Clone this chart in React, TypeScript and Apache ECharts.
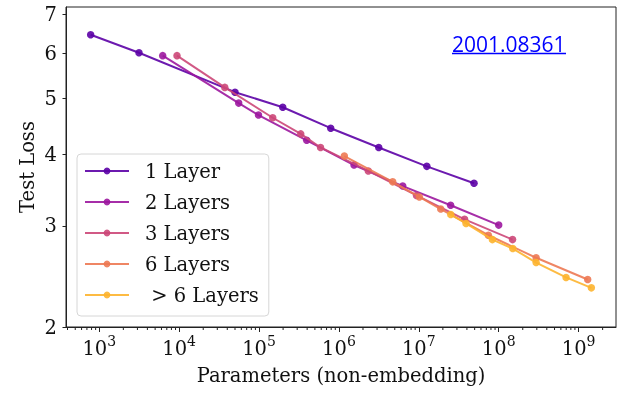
import React, { useEffect, useRef } from 'react';
import * as echarts from 'echarts';

const seriesNames = ['1 Layer', '2 Layers', '3 Layers', '6 Layers', ' > 6 Layers'];
const seriesColors = ['#5c01a6', '#9c179e', '#cc4778', '#ed7953', '#fdb42f'];

const params1 = [780, 3140, 50000, 198000, 789000, 3.15e6, 1.26e7, 4.91e7];
const loss1 = [6.46, 6.01, 5.13, 4.83, 4.44, 4.11, 3.81, 3.56];
const params2 = [6220, 55600, 98400, 395000, 1.545e6, 6.29e6, 2.5e7, 1.0e8];
const loss2 = [5.94, 4.91, 4.68, 4.23, 3.83, 3.52, 3.26, 3.01];
const params3 = [9390, 37250, 148300, 332500, 588500, 2.33e6, 9.36e6, 3.74e7, 1.49e8];
const loss3 = [5.94, 5.23, 4.63, 4.34, 4.11, 3.74, 3.39, 3.08, 2.84];
const params6 = [1.168e6, 4.71e6, 1.016e7, 1.88e7, 7.42e7, 2.94e8, 1.3e9];
const loss6 = [3.97, 3.58, 3.37, 3.21, 2.89, 2.64, 2.42];
const paramsDeep = [2.51e7, 3.9e7, 8.33e7, 1.5e8, 2.94e8, 6.97e8, 1.445e9];
const lossDeep = [3.14, 3.03, 2.84, 2.74, 2.59, 2.44, 2.34];

const xMajorTicks = [1e3, 1e4, 1e5, 1e6, 1e7, 1e8, 1e9];
const xMinorMultipliers = [2, 3, 4, 5, 6, 7, 8, 9];
const xMinorDecades = [1e2, 1e3, 1e4, 1e5, 1e6, 1e7, 1e8, 1e9];
const yTicks = [2, 3, 4, 5, 6, 7];

const X_MIN = 383;
const X_MAX = 2.94e9;
const Y_MIN = 2;
const Y_MAX = 7.22;

const FONT = 'DejaVu Serif';
const TEXT = '#111';

const allParams = [params1, params2, params3, params6, paramsDeep];
const allLoss = [loss1, loss2, loss3, loss6, lossDeep];

export default function App() {
  const ref = useRef<HTMLDivElement>(null);
  useEffect(() => {
    document.body.style.margin = '0';
    if (!ref.current) return;
    const chart = echarts.init(ref.current, null, { renderer: 'svg' });
    const xMinor: number[] = [];
    xMinorDecades.forEach((d) =>
      xMinorMultipliers.forEach((m) => {
        const v = d * m;
        if (v > X_MIN && v < X_MAX) xMinor.push(v);
      })
    );
    const series: any[] = seriesNames.map((name, i) => ({
      name,
      type: 'line',
      data: allParams[i].map((p, j) => [p, allLoss[i][j]]),
      symbol: 'circle',
      symbolSize: 7.5,
      color: seriesColors[i],
      lineStyle: { width: 2, color: seriesColors[i], opacity: 0.9 },
      itemStyle: { color: seriesColors[i], opacity: 0.9 },
      emphasis: { disabled: true },
      z: 2 + i,
    }));
    series.push({
      name: 'minorTicks',
      type: 'custom',
      silent: true,
      clip: false,
      data: xMinor.map((v) => [v, Y_MIN]),
      renderItem: (params: any, api: any) => {
        const pt = api.coord([api.value(0), api.value(1)]);
        return {
          type: 'line',
          shape: { x1: pt[0], y1: pt[1], x2: pt[0], y2: pt[1] + 3 },
          style: { stroke: '#222', lineWidth: 1 },
        };
      },
      z: 1,
    });
    chart.setOption({
      animation: false,
      grid: {
        left: 66,
        right: 9,
        top: 7,
        bottom: 69,
        show: true,
        borderColor: '#222',
        borderWidth: 1,
        backgroundColor: 'transparent',
        outerBoundsMode: 'none',
      },
      legend: {
        show: true,
        data: seriesNames,
        left: 77,
        top: 154,
        orient: 'vertical',
        selectedMode: false,
        itemWidth: 44,
        itemHeight: 8.5,
        itemGap: 11,
        padding: [7, 10, 11, 7],
        backgroundColor: 'rgba(255,255,255,0.85)',
        borderColor: '#d6d6d6',
        borderWidth: 1,
        borderRadius: 4,
        textStyle: {
          fontFamily: FONT,
          fontSize: 19.5,
          color: TEXT,
          lineHeight: 20,
          padding: [0, 0, 0, 11],
        },
      },
      xAxis: {
        type: 'log',
        min: X_MIN,
        max: X_MAX,
        position: 'bottom',
        name: 'Parameters (non-embedding)',
        nameLocation: 'middle',
        nameGap: 38,
        nameMoveOverlap: false,
        nameTextStyle: { fontFamily: FONT, fontSize: 19.5, color: TEXT },
        axisLine: { show: true, onZero: false, lineStyle: { color: '#222', width: 1 } },
        axisTick: { show: true, length: 5, customValues: xMajorTicks, lineStyle: { color: '#222' } },
        axisLabel: {
          show: true,
          margin: 7,
          customValues: xMajorTicks,
          formatter: (v: number) => `{b|10}{s|${Math.round(Math.log10(v))}}`,
          rich: {
            b: { fontFamily: FONT, fontSize: 19.5, color: TEXT, lineHeight: 24, verticalAlign: 'bottom' },
            s: { fontFamily: FONT, fontSize: 14, color: TEXT, lineHeight: 16, verticalAlign: 'top' },
          },
        },
        splitLine: { show: false },
        minorTick: { show: false },
      },
      yAxis: {
        type: 'log',
        min: Y_MIN,
        max: Y_MAX,
        position: 'left',
        name: 'Test Loss',
        nameLocation: 'middle',
        nameGap: 29,
        nameMoveOverlap: false,
        nameTextStyle: { fontFamily: FONT, fontSize: 19.5, color: TEXT },
        axisLine: { show: true, onZero: false, lineStyle: { color: '#222', width: 1 } },
        axisTick: { show: true, length: 3.5, customValues: yTicks, lineStyle: { color: '#222' } },
        axisLabel: {
          show: true,
          margin: 9,
          customValues: yTicks,
          formatter: (v: number) => String(Math.round(v)),
          fontFamily: FONT,
          fontSize: 19.5,
          color: TEXT,
        },
        splitLine: { show: false },
      },
      graphic: [
        {
          type: 'text',
          x: 452,
          y: 44,
          style: {
            text: '2001.08361',
            fontFamily: 'Open Sans',
            fontSize: 21,
            fill: '#0000ff',
            textVerticalAlign: 'middle',
            verticalAlign: 'middle',
          },
        },
        {
          type: 'line',
          shape: { x1: 452, y1: 53.5, x2: 566, y2: 53.5 },
          style: { stroke: '#0000ff', lineWidth: 1.5 },
        },
      ],
      series,
    });
    return () => chart.dispose();
  }, []);
  return <div ref={ref} style={{ position: 'fixed', left: 0, top: 0, width: 625, height: 396 }} />;
}
